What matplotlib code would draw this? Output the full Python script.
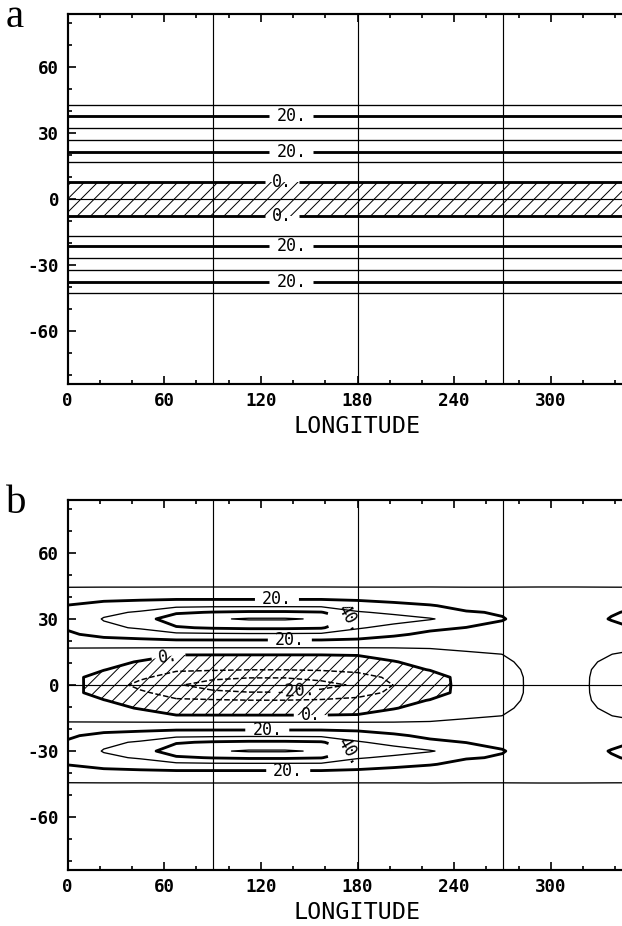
import numpy as np
import matplotlib
matplotlib.use("Agg")
import matplotlib.pyplot as plt
from matplotlib.ticker import MultipleLocator, FixedLocator

plt.rcParams["font.family"] = "DejaVu Sans Mono"
plt.rcParams["axes.unicode_minus"] = False
plt.rcParams["hatch.linewidth"] = 0.6
plt.rcParams["hatch.color"] = "black"

# grid rows (northern hemisphere, mirrored for the south)
lat_north = [0, 3.5, 7, 10.5, 14, 17, 20, 23, 26, 30, 33, 36, 39, 42, 45, 50, 60, 75, 90]

# panel a: zonal wind, same at every longitude
u_a_north = [-5, -3.5, -0.7, 3.2, 6.8, 10.2, 17.5, 23, 29, 34, 29, 23, 17, 11.5, 5.9, 5.5, 5, 5, 5]

# panel b: one column of wind values per grid longitude
lon_b = [0, 22.5, 45, 67.5, 90, 112.5, 135, 157.5, 180,
         202.5, 225, 247.5, 270, 292.5, 315, 337.5, 360]
u_b_0 = [2.2, 2.3, 3, 4.5, 6.5, 10.3, 14.5, 18.5, 21, 22, 21.5, 20.3, 17, 13, 9.2, 6, 5, 5, 5]
u_b_22 = [-2.75, -2.9, 0.3, 2.5, 5.5, 10.3, 16.5, 23, 28, 30.6, 28, 23, 18.5, 13.5, 9.2, 6, 5, 5, 5]
u_b_45 = [-13.3, -8, -3.5, -0.5, 3.5, 10.3, 17.5, 25, 31, 35.2, 31, 25, 19, 13.5, 9.2, 6, 5, 5, 5]
u_b_67 = [-19, -15, -8.5, -4.5, 0.5, 10.3, 18.6, 27.5, 39, 46, 38.5, 27.5, 19.6, 14, 9.2, 6, 5, 5, 5]
u_b_90 = [-24, -18, -9, -4.8, 0.5, 10.3, 18.6, 28, 41, 48.9, 40.5, 28, 19.6, 14, 9.2, 6, 5, 5, 5]
u_b_112 = [-26, -19.5, -9.7, -4.9, 0.5, 10.3, 18.6, 28.3, 42, 51, 41.6, 28, 19.6, 14, 9.2, 6, 5, 5, 5]
u_b_135 = [-26, -19.5, -9.7, -4.9, 0.5, 10.3, 18.6, 28.3, 42, 51, 41.6, 28, 19.6, 14, 9.2, 6, 5, 5, 5]
u_b_157 = [-23, -17.5, -9, -4.8, 0.5, 10.3, 18.6, 28, 41, 49, 40.5, 28, 19.6, 14, 9.2, 6, 5, 5, 5]
u_b_180 = [-18.6, -14, -7.5, -3.5, 0.7, 10.3, 18, 25, 31, 37.4, 31, 24, 19, 13.5, 9.2, 6, 5, 5, 5]
u_b_202 = [-9.8, -8, -4, -0.5, 4, 10.3, 16, 21.5, 27, 34, 28, 22, 18, 13.5, 9.2, 6, 5, 5, 5]
u_b_225 = [-4.8, -4.5, 0.5, 3.5, 6.5, 10.6, 14.5, 18, 22, 30.8, 24, 20.5, 16.5, 13, 9.4, 6, 5, 5, 5]
u_b_247 = [3.5, 3.6, 4.5, 6, 8.5, 12, 14.8, 17.5, 19.8, 25, 20.5, 18, 15, 12.5, 9.4, 6, 5, 5, 5]
u_b_270 = [7.25, 7.3, 7.8, 8.8, 10.05, 12.3, 14.5, 16.8, 18.8, 20.3, 19.5, 17.5, 15, 12.5, 9.4, 6, 5, 5, 5]
u_b_292 = [12, 12, 12.2, 12.6, 13, 13.8, 14.6, 15.5, 16.3, 17, 16.6, 15.6, 14, 12, 9.6, 6, 5, 5, 5]
u_b_315 = [11.9, 11.9, 12, 12.5, 13, 13.8, 14.6, 15.5, 16.3, 17, 16.6, 15.6, 14, 12, 9.6, 6, 5, 5, 5]
u_b_337 = [7.1, 7.2, 7.6, 8.5, 10.1, 12, 14, 16.5, 18.5, 20.3, 19.5, 17.5, 15, 12.5, 9.4, 6, 5, 5, 5]
u_b_columns = [u_b_0, u_b_22, u_b_45, u_b_67, u_b_90, u_b_112, u_b_135, u_b_157, u_b_180,
               u_b_202, u_b_225, u_b_247, u_b_270, u_b_292, u_b_315, u_b_337, u_b_0]

lon_ticks = [0, 60, 120, 180, 240, 300]

# where the contour labels sit (lon, lat)
labels_a = [(139, 37.5), (139, 21.4), (133, 7.6), (133, -7.6), (139, -21.4), (139, -37.5)]
labels_b = [(130, 39), (138, 20.5), (63, 11.5), (151, -13.8), (124, -20.5), (137, -39),
            (178, 29.5), (178, -29.5)]
labels_b_neg = [(141, -4.6)]


def mirror(rows):
    rows = np.asarray(rows, dtype=float)
    return np.concatenate([rows[:0:-1], rows])


lat = np.concatenate([-np.array(lat_north[:0:-1], dtype=float), lat_north])
lon_a = [0, 360]
u_a = np.repeat(mirror(u_a_north)[:, None], 2, axis=1)
u_b = mirror(np.array(u_b_columns).T)


def fmt(v):
    return "%d." % round(v)


def draw_panel(ax, lon, u, pos, pos_neg):
    ax.contourf(lon, lat, u, levels=[-200, 0], colors="none", hatches=["///"])
    neg = ax.contour(lon, lat, u, levels=[-20, -10], colors="black",
                     linewidths=0.9, linestyles="dashed")
    ax.contour(lon, lat, u, levels=[10, 30, 50], colors="black", linewidths=0.8)
    thick = ax.contour(lon, lat, u, levels=[0, 20, 40], colors="black", linewidths=1.7)
    texts = ax.clabel(thick, manual=pos, fmt=fmt, inline=True, inline_spacing=7, fontsize=10)
    for t in texts:
        if t.get_text() == "40.":
            t.set_rotation(-60)
    if pos_neg:
        ax.clabel(neg, manual=pos_neg, fmt=fmt, inline=True, inline_spacing=4, fontsize=10)

    for x in (90, 180, 270):
        ax.axvline(x, color="black", lw=0.7)
    ax.axhline(0, color="black", lw=0.7)

    ax.set_xlim(0, 360)
    ax.set_ylim(-84, 84)
    ax.xaxis.set_major_locator(FixedLocator(lon_ticks))
    ax.xaxis.set_minor_locator(MultipleLocator(20))
    ax.yaxis.set_major_locator(MultipleLocator(30))
    ax.yaxis.set_minor_locator(MultipleLocator(10))
    ax.tick_params(which="both", direction="in", top=True, right=True, width=1.0)
    ax.tick_params(which="major", length=5, labelsize=10.5, pad=5)
    ax.tick_params(which="minor", length=2.5)
    plt.setp(ax.get_xticklabels() + ax.get_yticklabels(), fontweight="bold")
    for s in ax.spines.values():
        s.set_linewidth(1.3)
    ax.set_xlabel("LONGITUDE", fontsize=14, labelpad=3)


fig = plt.figure(figsize=(622 / 120, 926 / 120), dpi=120)
ax_a = fig.add_axes([67.5 / 622, 1 - 384 / 926, 580 / 622, 370 / 926])
ax_b = fig.add_axes([67.5 / 622, 1 - 870 / 926, 580 / 622, 370 / 926])

draw_panel(ax_a, lon_a, u_a, labels_a, None)
draw_panel(ax_b, lon_b, u_b, labels_b, labels_b_neg)

fig.text(6 / 622, 1 - 27 / 926, "a", family="Liberation Serif", fontsize=24.5, va="baseline")
fig.text(6 / 622, 1 - 513 / 926, "b", family="Liberation Serif", fontsize=24.5, va="baseline")

fig.savefig("out.png", dpi=120)
